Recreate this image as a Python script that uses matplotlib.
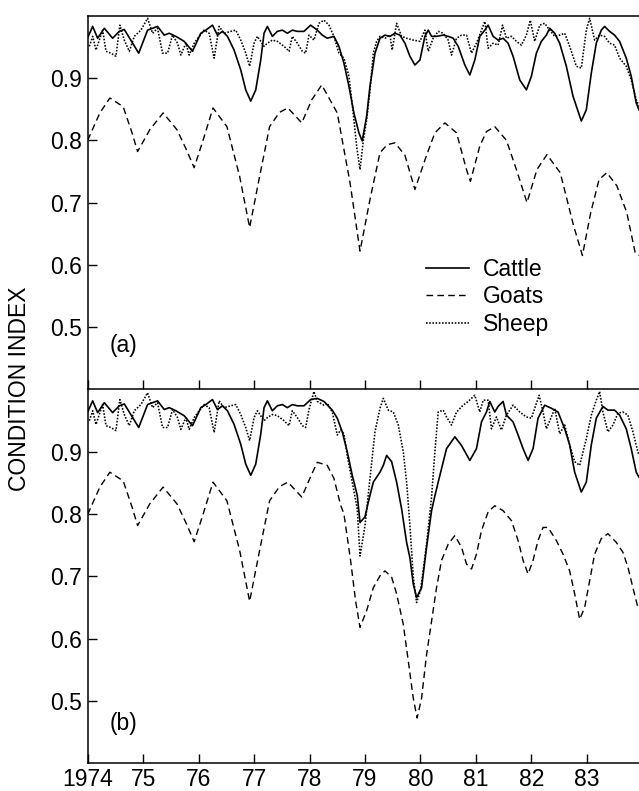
import matplotlib

matplotlib.use("Agg")
import matplotlib.pyplot as plt
from matplotlib.lines import Line2D

plt.rcParams["font.family"] = ["Liberation Sans", "DejaVu Sans"]

# ---- shared record, 1974 to early 1978 (same in both panels) ----
CATTLE_EARLY_T = [
    1974.00, 1974.09, 1974.18, 1974.30, 1974.45, 1974.57, 1974.66, 1974.75, 1974.92,
    1975.08, 1975.26, 1975.38, 1975.47, 1975.59, 1975.74, 1975.89, 1976.04, 1976.13,
    1976.25, 1976.34, 1976.43, 1976.52, 1976.64, 1976.76, 1976.85, 1976.94, 1977.03,
    1977.12, 1977.18, 1977.24, 1977.33, 1977.42, 1977.51, 1977.60, 1977.69, 1977.78,
    1977.90, 1978.02,
]
CATTLE_EARLY_V = [
    0.965, 0.983, 0.964, 0.980, 0.964, 0.975, 0.978, 0.965, 0.940,
    0.977, 0.983, 0.969, 0.972, 0.967, 0.959, 0.943, 0.972, 0.977,
    0.985, 0.969, 0.975, 0.967, 0.945, 0.913, 0.881, 0.863, 0.881,
    0.929, 0.972, 0.983, 0.967, 0.975, 0.977, 0.972, 0.977, 0.975,
    0.975, 0.985,
]

SHEEP_EARLY_T = [
    1974.03, 1974.09, 1974.15, 1974.21, 1974.27, 1974.33, 1974.42, 1974.51, 1974.58,
    1974.66, 1974.75, 1974.84, 1974.96, 1975.08, 1975.17, 1975.26, 1975.35, 1975.44,
    1975.53, 1975.62, 1975.68, 1975.77, 1975.83, 1975.92, 1976.01, 1976.10, 1976.19,
    1976.28, 1976.37, 1976.46, 1976.58, 1976.67, 1976.76, 1976.85, 1976.92, 1977.00,
    1977.06, 1977.12, 1977.18, 1977.24, 1977.33, 1977.42, 1977.54, 1977.63, 1977.69,
    1977.78, 1977.87, 1977.93, 1977.99,
]
SHEEP_EARLY_V = [
    0.951, 0.967, 0.945, 0.961, 0.977, 0.943, 0.940, 0.935, 0.985,
    0.961, 0.943, 0.967, 0.977, 0.996, 0.972, 0.980, 0.940, 0.940,
    0.969, 0.956, 0.937, 0.956, 0.937, 0.956, 0.967, 0.977, 0.972,
    0.932, 0.983, 0.972, 0.975, 0.977, 0.961, 0.940, 0.919, 0.956,
    0.967, 0.959, 0.951, 0.956, 0.961, 0.959, 0.951, 0.943, 0.967,
    0.956, 0.943, 0.940, 0.969,
]

GOATS_EARLY_T = [
    1974.00, 1974.22, 1974.40, 1974.64, 1974.80, 1974.90, 1975.12, 1975.36, 1975.61,
    1975.78, 1975.92, 1976.08, 1976.26, 1976.51, 1976.74, 1976.92, 1977.10, 1977.28,
    1977.46, 1977.61, 1977.86, 1978.04,
]
GOATS_EARLY_V = [
    0.800, 0.844, 0.868, 0.854, 0.812, 0.782, 0.817, 0.844, 0.817,
    0.785, 0.756, 0.800, 0.852, 0.822, 0.742, 0.660, 0.742, 0.822,
    0.845, 0.852, 0.828, 0.865,
]

# ---- panel (a), 1978 onwards ----
CATTLE_A_T = [
    1978.14, 1978.23, 1978.32, 1978.44, 1978.53, 1978.62, 1978.71, 1978.80, 1978.89,
    1978.95, 1979.03, 1979.09, 1979.18, 1979.27, 1979.36, 1979.45, 1979.54, 1979.63,
    1979.72, 1979.81, 1979.90, 1979.99, 1980.08, 1980.14, 1980.20, 1980.29, 1980.41,
    1980.50, 1980.59, 1980.68, 1980.80, 1980.89, 1980.98, 1981.07, 1981.16, 1981.22,
    1981.31, 1981.40, 1981.49, 1981.58, 1981.67, 1981.79, 1981.91, 1982.00, 1982.09,
    1982.18, 1982.27, 1982.33, 1982.42, 1982.51, 1982.63, 1982.75, 1982.90, 1982.99,
    1983.08, 1983.17, 1983.26, 1983.32, 1983.41, 1983.50, 1983.59, 1983.71, 1983.80,
    1983.89, 1983.94,
]
CATTLE_A_V = [
    0.977, 0.969, 0.964, 0.967, 0.951, 0.924, 0.887, 0.844, 0.812,
    0.799, 0.839, 0.887, 0.940, 0.964, 0.969, 0.967, 0.972, 0.969,
    0.956, 0.935, 0.921, 0.929, 0.967, 0.977, 0.967, 0.967, 0.969,
    0.967, 0.964, 0.951, 0.921, 0.905, 0.929, 0.967, 0.977, 0.985,
    0.967, 0.961, 0.964, 0.956, 0.935, 0.897, 0.881, 0.903, 0.940,
    0.959, 0.969, 0.980, 0.972, 0.956, 0.919, 0.871, 0.831, 0.849,
    0.908, 0.956, 0.977, 0.983, 0.975, 0.969, 0.959, 0.932, 0.903,
    0.860, 0.849,
]

SHEEP_A_T = [
    1978.08, 1978.17, 1978.26, 1978.35, 1978.44, 1978.53, 1978.62, 1978.71, 1978.78,
    1978.85, 1978.91, 1978.97, 1979.03, 1979.09, 1979.15, 1979.21, 1979.27, 1979.36,
    1979.45, 1979.49, 1979.57, 1979.66, 1979.75, 1979.87, 1979.99, 1980.08, 1980.14,
    1980.23, 1980.32, 1980.41, 1980.50, 1980.56, 1980.65, 1980.74, 1980.83, 1980.92,
    1981.01, 1981.10, 1981.16, 1981.22, 1981.31, 1981.40, 1981.48, 1981.55, 1981.64,
    1981.73, 1981.82, 1981.91, 1981.98, 1982.06, 1982.15, 1982.24, 1982.33, 1982.42,
    1982.51, 1982.60, 1982.69, 1982.81, 1982.90, 1982.99, 1983.05, 1983.14, 1983.23,
    1983.32, 1983.41, 1983.50, 1983.59, 1983.71, 1983.80, 1983.89, 1983.94,
]
SHEEP_A_V = [
    0.961, 0.988, 0.993, 0.985, 0.967, 0.940, 0.932, 0.903, 0.850,
    0.790, 0.753, 0.800, 0.833, 0.880, 0.940, 0.959, 0.967, 0.964,
    0.969, 0.945, 0.988, 0.967, 0.964, 0.961, 0.959, 0.977, 0.943,
    0.964, 0.975, 0.972, 0.961, 0.937, 0.964, 0.969, 0.969, 0.940,
    0.956, 0.977, 0.991, 0.948, 0.956, 0.953, 0.985, 0.964, 0.967,
    0.959, 0.953, 0.969, 0.993, 0.959, 0.985, 0.988, 0.977, 0.967,
    0.969, 0.972, 0.951, 0.919, 0.916, 0.977, 0.996, 0.961, 0.969,
    0.967, 0.956, 0.953, 0.932, 0.919, 0.897, 0.865, 0.855,
]

GOATS_A_T = [
    1978.22, 1978.50, 1978.73, 1978.91, 1979.09, 1979.27, 1979.40, 1979.54, 1979.72,
    1979.90, 1980.11, 1980.26, 1980.44, 1980.65, 1980.83, 1980.90, 1981.07, 1981.19,
    1981.34, 1981.55, 1981.73, 1981.92, 1982.10, 1982.28, 1982.52, 1982.76, 1982.92,
    1983.07, 1983.22, 1983.36, 1983.54, 1983.72, 1983.87, 1983.94,
]
GOATS_A_V = [
    0.889, 0.844, 0.732, 0.622, 0.705, 0.780, 0.793, 0.796, 0.776,
    0.721, 0.776, 0.812, 0.828, 0.812, 0.753, 0.734, 0.791, 0.814,
    0.822, 0.800, 0.753, 0.700, 0.753, 0.777, 0.748, 0.663, 0.615,
    0.684, 0.737, 0.748, 0.727, 0.684, 0.620, 0.615,
]

# ---- panel (b), 1978 onwards ----
CATTLE_B_T = [
    1978.14, 1978.26, 1978.41, 1978.50, 1978.59, 1978.68, 1978.77, 1978.86, 1978.91,
    1979.00, 1979.06, 1979.15, 1979.27, 1979.33, 1979.39, 1979.48, 1979.57, 1979.66,
    1979.75, 1979.81, 1979.87, 1979.93, 1980.02, 1980.11, 1980.20, 1980.26, 1980.35,
    1980.47, 1980.62, 1980.74, 1980.89, 1981.01, 1981.10, 1981.19, 1981.25, 1981.34,
    1981.40, 1981.49, 1981.55, 1981.67, 1981.76, 1981.85, 1981.94, 1982.03, 1982.12,
    1982.24, 1982.36, 1982.48, 1982.60, 1982.69, 1982.78, 1982.90, 1982.99, 1983.08,
    1983.17, 1983.29, 1983.38, 1983.50, 1983.59, 1983.71, 1983.80, 1983.89, 1983.94,
]
CATTLE_B_V = [
    0.987, 0.982, 0.968, 0.955, 0.933, 0.901, 0.863, 0.831, 0.787,
    0.796, 0.820, 0.852, 0.868, 0.879, 0.895, 0.885, 0.852, 0.809,
    0.755, 0.730, 0.688, 0.666, 0.682, 0.747, 0.806, 0.830, 0.863,
    0.906, 0.925, 0.911, 0.887, 0.906, 0.949, 0.965, 0.982, 0.965,
    0.974, 0.982, 0.960, 0.949, 0.928, 0.906, 0.887, 0.906, 0.955,
    0.976, 0.971, 0.965, 0.938, 0.912, 0.868, 0.836, 0.852, 0.912,
    0.955, 0.974, 0.968, 0.968, 0.960, 0.938, 0.906, 0.868, 0.860,
]

SHEEP_B_T = [
    1978.08, 1978.14, 1978.26, 1978.32, 1978.41, 1978.50, 1978.56, 1978.62, 1978.68,
    1978.77, 1978.86, 1978.91, 1979.00, 1979.09, 1979.18, 1979.27, 1979.33, 1979.42,
    1979.51, 1979.60, 1979.69, 1979.75, 1979.81, 1979.87, 1979.93, 1980.00, 1980.11,
    1980.20, 1980.26, 1980.32, 1980.41, 1980.47, 1980.56, 1980.65, 1980.77, 1980.86,
    1980.98, 1981.07, 1981.13, 1981.22, 1981.28, 1981.37, 1981.46, 1981.55, 1981.67,
    1981.79, 1981.91, 1982.00, 1982.06, 1982.14, 1982.21, 1982.27, 1982.36, 1982.42,
    1982.51, 1982.60, 1982.69, 1982.78, 1982.87, 1982.99, 1983.08, 1983.17, 1983.23,
    1983.29, 1983.38, 1983.47, 1983.56, 1983.65, 1983.74, 1983.83, 1983.92, 1983.94,
]
SHEEP_B_V = [
    0.998, 0.982, 0.976, 0.979, 0.965, 0.928, 0.936, 0.930, 0.895,
    0.852, 0.809, 0.733, 0.782, 0.858, 0.933, 0.971, 0.987, 0.968,
    0.965, 0.944, 0.901, 0.852, 0.782, 0.700, 0.658, 0.677, 0.752,
    0.828, 0.901, 0.965, 0.968, 0.957, 0.944, 0.965, 0.976, 0.982,
    0.992, 0.965, 0.984, 0.984, 0.938, 0.957, 0.936, 0.960, 0.976,
    0.965, 0.957, 0.955, 0.971, 0.992, 0.965, 0.938, 0.957, 0.971,
    0.930, 0.944, 0.912, 0.885, 0.879, 0.922, 0.960, 0.984, 0.998,
    0.965, 0.933, 0.944, 0.963, 0.965, 0.960, 0.933, 0.901, 0.895,
]

GOATS_B_T = [
    1978.14, 1978.32, 1978.44, 1978.56, 1978.62, 1978.74, 1978.83, 1978.91, 1979.03,
    1979.15, 1979.27, 1979.36, 1979.48, 1979.57, 1979.69, 1979.78, 1979.87, 1979.94,
    1980.02, 1980.11, 1980.20, 1980.29, 1980.38, 1980.50, 1980.62, 1980.74, 1980.83,
    1980.92, 1981.01, 1981.10, 1981.22, 1981.34, 1981.49, 1981.64, 1981.76, 1981.85,
    1981.94, 1982.03, 1982.12, 1982.21, 1982.30, 1982.45, 1982.57, 1982.69, 1982.78,
    1982.87, 1982.96, 1983.05, 1983.14, 1983.26, 1983.38, 1983.53, 1983.65, 1983.74,
    1983.83, 1983.92,
]
GOATS_B_V = [
    0.884, 0.879, 0.858, 0.815, 0.801, 0.726, 0.661, 0.618, 0.645,
    0.682, 0.701, 0.709, 0.699, 0.672, 0.623, 0.564, 0.504, 0.472,
    0.504, 0.574, 0.628, 0.682, 0.726, 0.752, 0.766, 0.747, 0.720,
    0.712, 0.736, 0.774, 0.804, 0.814, 0.806, 0.790, 0.758, 0.726,
    0.704, 0.726, 0.758, 0.779, 0.779, 0.758, 0.736, 0.709, 0.672,
    0.631, 0.650, 0.693, 0.736, 0.761, 0.769, 0.755, 0.739, 0.715,
    0.682, 0.650,
]

YEAR_TICKS = [1974, 1975, 1976, 1977, 1978, 1979, 1980, 1981, 1982, 1983]
YEAR_LABELS = ["1974", "75", "76", "77", "78", "79", "80", "81", "82", "83"]
INDEX_TICKS = [0.5, 0.6, 0.7, 0.8, 0.9]

FONT_SIZE = 16.5
STYLES = {
    "Cattle": dict(color="black", lw=1.2, linestyle="-"),
    "Goats": dict(color="black", lw=1.0, linestyle=(0, (4.8, 3.0))),
    "Sheep": dict(color="black", lw=1.15, linestyle=(0, (1.0, 1.0))),
}


def style_axes(ax, show_top):
    ax.set_xlim(1974, 1983.94)
    ax.set_ylim(0.4, 1.0)
    ax.set_yticks(INDEX_TICKS)
    ax.set_yticklabels([f"{v:.1f}" for v in INDEX_TICKS])
    ax.set_xticks(YEAR_TICKS)
    ax.tick_params(direction="in", length=6.5, width=1.0, labelsize=FONT_SIZE, pad=4)
    ax.spines["right"].set_visible(False)
    ax.spines["top"].set_visible(show_top)
    for side in ["left", "bottom", "top"]:
        ax.spines[side].set_linewidth(1.1)


def draw_panel(ax, cattle, goats, sheep):
    ax.plot(cattle[0], cattle[1], **STYLES["Cattle"])
    ax.plot(goats[0], goats[1], **STYLES["Goats"])
    ax.plot(sheep[0], sheep[1], **STYLES["Sheep"])


def main():
    fig = plt.figure(figsize=(6.39, 7.91), dpi=100)
    ax_a = fig.add_axes([0.1372, 0.5078, 0.8628, 0.4722])
    ax_b = fig.add_axes([0.1372, 0.0358, 0.8628, 0.4708])

    draw_panel(
        ax_a,
        (CATTLE_EARLY_T + CATTLE_A_T, CATTLE_EARLY_V + CATTLE_A_V),
        (GOATS_EARLY_T + GOATS_A_T, GOATS_EARLY_V + GOATS_A_V),
        (SHEEP_EARLY_T + SHEEP_A_T, SHEEP_EARLY_V + SHEEP_A_V),
    )
    draw_panel(
        ax_b,
        (CATTLE_EARLY_T + CATTLE_B_T, CATTLE_EARLY_V + CATTLE_B_V),
        (GOATS_EARLY_T + GOATS_B_T, GOATS_EARLY_V + GOATS_B_V),
        (SHEEP_EARLY_T + SHEEP_B_T, SHEEP_EARLY_V + SHEEP_B_V),
    )

    style_axes(ax_a, show_top=True)
    style_axes(ax_b, show_top=False)
    ax_a.tick_params(labelbottom=False)
    ax_b.set_xticklabels(YEAR_LABELS)

    ax_a.text(1974.4, 0.47, "(a)", fontsize=FONT_SIZE, ha="left", va="center")
    ax_b.text(1974.4, 0.463, "(b)", fontsize=FONT_SIZE, ha="left", va="center")

    handles = [Line2D([], [], **STYLES[name]) for name in ["Cattle", "Goats", "Sheep"]]
    ax_a.legend(
        handles,
        ["Cattle", "Goats", "Sheep"],
        loc="upper left",
        bbox_to_anchor=(0.614, 0.352),
        frameon=False,
        fontsize=FONT_SIZE,
        handlelength=1.88,
        handletextpad=0.6,
        labelspacing=0.2,
        borderpad=0,
        borderaxespad=0,
    )

    fig.text(0.031, 0.508, "CONDITION INDEX", rotation=90, fontsize=FONT_SIZE,
             ha="center", va="center")

    fig.savefig("out.png", dpi=100)
    plt.close(fig)


if __name__ == "__main__":
    main()
